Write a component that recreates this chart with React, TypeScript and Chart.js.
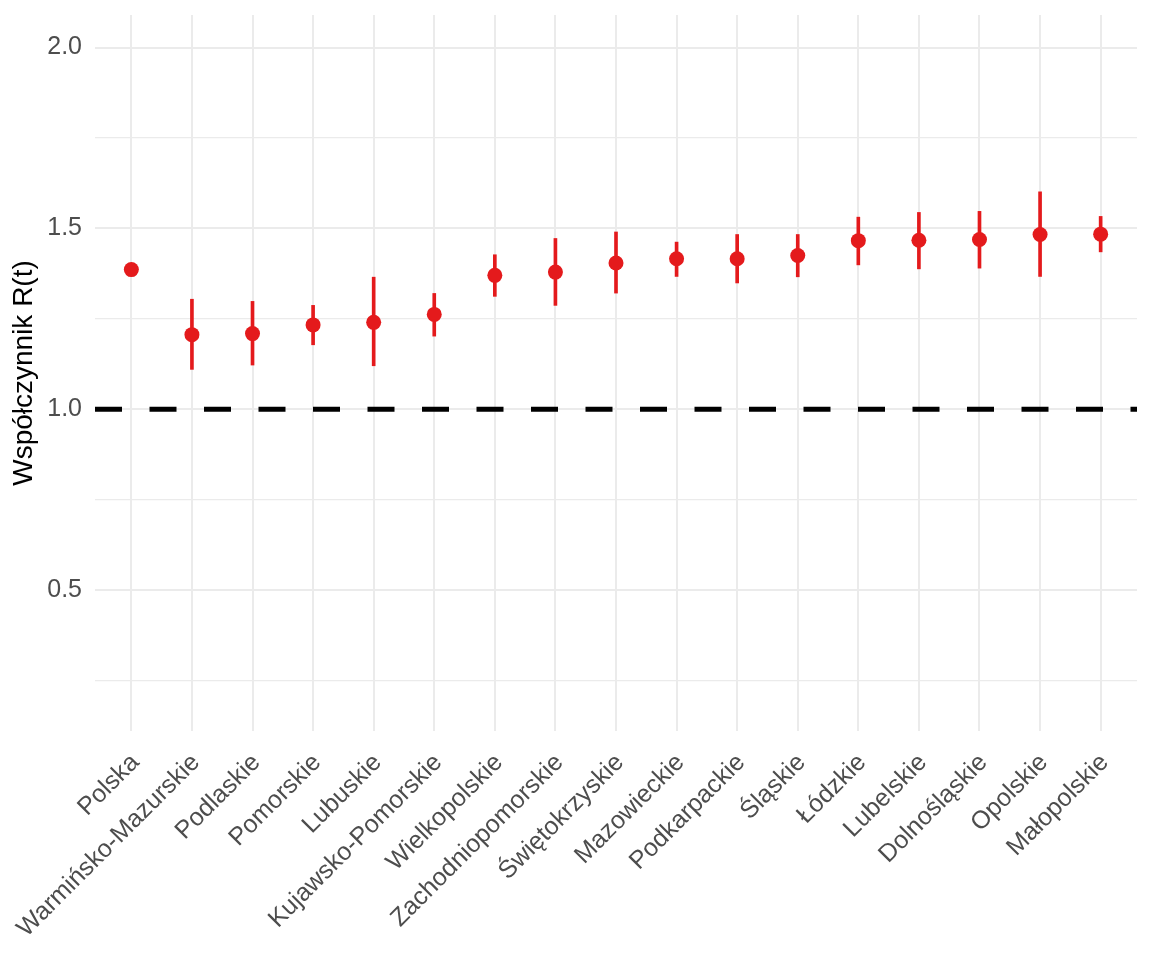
import React, { useEffect, useRef } from "react";
import { Chart, registerables } from "chart.js";

Chart.register(...registerables);

const regions = [
  "Polska",
  "Warmińsko-Mazurskie",
  "Podlaskie",
  "Pomorskie",
  "Lubuskie",
  "Kujawsko-Pomorskie",
  "Wielkopolskie",
  "Zachodniopomorskie",
  "Świętokrzyskie",
  "Mazowieckie",
  "Podkarpackie",
  "Śląskie",
  "Łódzkie",
  "Lubelskie",
  "Dolnośląskie",
  "Opolskie",
  "Małopolskie",
];

const rValues = [1.386, 1.206, 1.209, 1.233, 1.24, 1.262, 1.37, 1.379, 1.404, 1.416, 1.416, 1.425, 1.466, 1.467, 1.469, 1.483, 1.484];
const rLower = [1.38, 1.11, 1.122, 1.178, 1.12, 1.202, 1.312, 1.287, 1.321, 1.367, 1.349, 1.366, 1.399, 1.388, 1.39, 1.367, 1.435];
const rUpper = [1.392, 1.304, 1.298, 1.287, 1.365, 1.32, 1.427, 1.472, 1.49, 1.462, 1.483, 1.483, 1.531, 1.544, 1.547, 1.601, 1.533];

const yTickValues = [0.25, 0.5, 0.75, 1.0, 1.25, 1.5, 1.75, 2.0];
const referenceLevel = 1.0;
const yMin = 0.11;
const yMax = 2.09;

const RED = "#E41A1C";
const GRID = "#EBEBEB";
const FONT = "'Liberation Sans', Arial, Helvetica, sans-serif";

const isMajor = (v: number) => Math.abs(v / 0.5 - Math.round(v / 0.5)) < 1e-9;

export default function App() {
  const canvasRef = useRef<HTMLCanvasElement | null>(null);

  useEffect(() => {
    const canvas = canvasRef.current;
    if (!canvas) return;
    const n = regions.length;
    const xMin = -0.6;
    const xMax = n - 1 + 0.6;

    const chart = new Chart(canvas, {
      type: "scatter",
      data: {
        datasets: [
          {
            type: "scatter",
            label: "R(t)",
            data: rValues.map((v, i) => ({ x: i, y: v })),
            backgroundColor: RED,
            borderWidth: 0,
            pointRadius: 7.5,
            pointHoverRadius: 7.5,
            order: 0,
          } as any,
          {
            type: "bar",
            label: "CI",
            data: rLower.map((lo, i) => ({ x: i, y: [lo, rUpper[i]] })),
            backgroundColor: RED,
            borderWidth: 0,
            barThickness: 3,
            order: 1,
          } as any,
          {
            type: "line",
            label: "ref",
            data: [
              { x: xMin, y: referenceLevel },
              { x: xMax, y: referenceLevel },
            ],
            borderColor: "#000000",
            borderWidth: 5,
            borderDash: [27, 27.5],
            borderCapStyle: "butt",
            pointRadius: 0,
            fill: false,
            order: 2,
          } as any,
        ],
      },
      options: {
        animation: false,
        responsive: false,
        maintainAspectRatio: false,
        layout: { padding: { top: 15, right: 15, left: 0, bottom: 0 } },
        plugins: {
          legend: { display: false },
          tooltip: { enabled: false },
        },
        scales: {
          x: {
            type: "linear",
            min: xMin,
            max: xMax,
            offset: false,
            border: { display: false },
            grid: {
              color: GRID,
              lineWidth: 2,
              drawTicks: false,
              offset: false,
            },
            afterBuildTicks: (scale: any) => {
              scale.ticks = regions.map((_, i) => ({ value: i }));
            },
            afterFit: (scale: any) => {
              scale.height = 229;
              scale.paddingLeft = 0;
              scale.paddingRight = 0;
            },
            ticks: {
              autoSkip: false,
              maxRotation: 45,
              minRotation: 45,
              padding: 17,
              labelOffset: 4,
              color: "#4D4D4D",
              font: { family: FONT, size: 25 },
              callback: (value: any) => regions[Math.round(Number(value))] ?? "",
            },
          },
          y: {
            type: "linear",
            min: yMin,
            max: yMax,
            border: { display: false },
            grid: {
              color: GRID,
              drawTicks: false,
              lineWidth: (ctx: any) => (ctx.tick && isMajor(ctx.tick.value) ? 2 : 1.2),
            },
            afterBuildTicks: (scale: any) => {
              scale.ticks = yTickValues.map((v) => ({ value: v }));
            },
            afterFit: (scale: any) => {
              scale.width = 95;
              scale.paddingTop = 0;
              scale.paddingBottom = 0;
            },
            ticks: {
              padding: 13,
              color: "#4D4D4D",
              font: { family: FONT, size: 25 },
              callback: (value: any) => {
                const v = Number(value);
                return isMajor(v) ? v.toFixed(1) : "";
              },
            },
            title: {
              display: true,
              text: "Współczynnik R(t)",
              color: "#000000",
              font: { family: FONT, size: 28 },
              padding: { top: 7, bottom: 0 },
            },
          },
        },
      } as any,
    });

    return () => {
      chart.destroy();
    };
  }, []);

  return (
    <div style={{ position: "absolute", left: 0, top: 0, width: 1152, height: 960, background: "#ffffff" }}>
      <canvas ref={canvasRef} width={1152} height={960} style={{ display: "block", width: 1152, height: 960 }} />
    </div>
  );
}
